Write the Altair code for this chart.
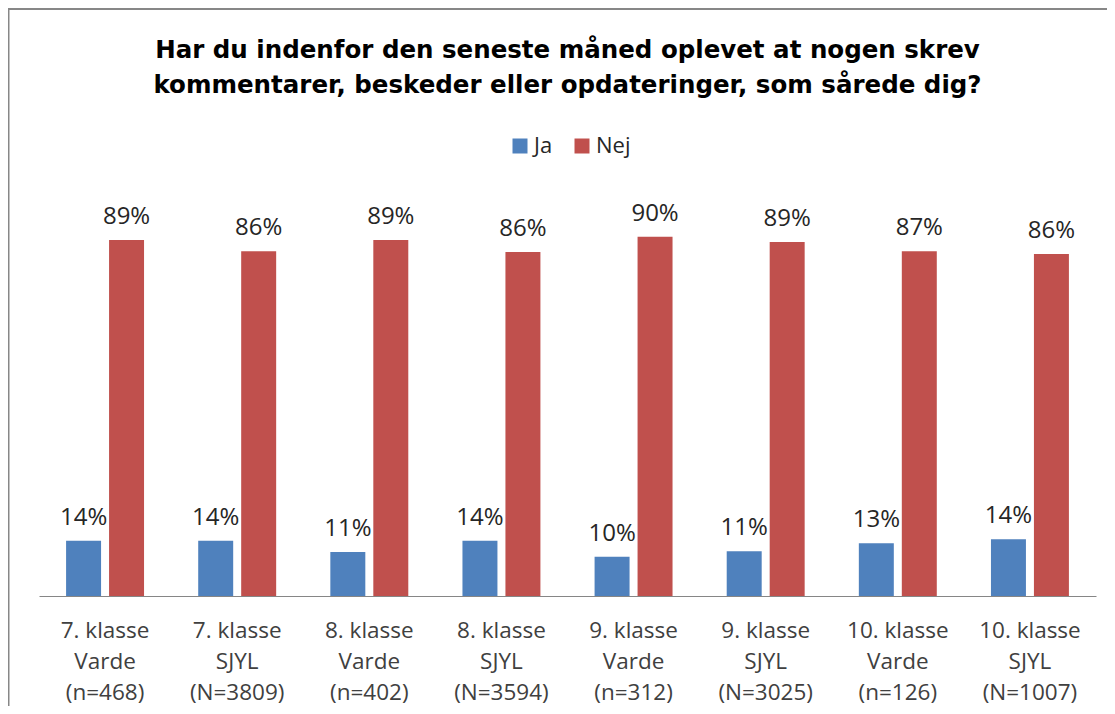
import altair as alt
import pandas as pd

groups = [
    "7. klasse\nVarde\n(n=468)",
    "7. klasse\nSJYL\n(N=3809)",
    "8. klasse\nVarde\n(n=402)",
    "8. klasse\nSJYL\n(N=3594)",
    "9. klasse\nVarde\n(n=312)",
    "9. klasse\nSJYL\n(N=3025)",
    "10. klasse\nVarde\n(n=126)",
    "10. klasse\nSJYL\n(N=1007)",
]
series = ["Ja", "Nej"]
ja_values = [13.8, 13.8, 11.0, 13.8, 9.8, 11.2, 13.2, 14.2]
nej_values = [89.0, 86.2, 89.0, 86.0, 89.8, 88.5, 86.2, 85.5]
ja_labels = ["14%", "14%", "11%", "14%", "10%", "11%", "13%", "14%"]
nej_labels = ["89%", "86%", "89%", "86%", "90%", "89%", "87%", "86%"]
colors = ["#4F81BD", "#C0504D"]
title_lines = [
    "Har du indenfor den seneste måned oplevet at nogen skrev",
    "kommentarer, beskeder eller opdateringer, som sårede dig?",
]

rows = []
for g, v, l in zip(groups, ja_values, ja_labels):
    rows.append({"group": g, "series": "Ja", "value": v, "label": l})
for g, v, l in zip(groups, nej_values, nej_labels):
    rows.append({"group": g, "series": "Nej", "value": v, "label": l})
df = pd.DataFrame(rows)

FONT = "Open Sans"
PL, PT, PR, PB = 31, 188, 11, 110
W, H = 1057, 400

x_enc = alt.X(
    "group:N",
    sort=groups,
    scale=alt.Scale(paddingInner=0.41, paddingOuter=0.205),
    axis=alt.Axis(
        title=None,
        labelExpr="split(datum.label, '\\n')",
        labelAngle=0,
        ticks=False,
        domainColor="#868686",
        domainWidth=1,
        labelFontSize=22.5,
        labelFont=FONT,
        labelColor="#404040",
        labelLineHeight=31,
        labelPadding=23,
        labelBaseline="top",
    ),
)
xo_enc = alt.XOffset(
    "series:N", sort=series, scale=alt.Scale(paddingInner=0.186, paddingOuter=0)
)
y_enc = alt.Y("value:Q", scale=alt.Scale(domain=[0, 100]), axis=None)

bars = alt.Chart(df).mark_bar().encode(
    x=x_enc,
    xOffset=xo_enc,
    y=y_enc,
    color=alt.Color(
        "series:N",
        scale=alt.Scale(domain=series, range=colors),
        legend=alt.Legend(
            title=None,
            orient="none",
            legendX=470,
            legendY=-61,
            direction="horizontal",
            symbolType="square",
            symbolSize=225,
            symbolStrokeWidth=0,
            labelFontSize=22,
            labelFont=FONT,
            labelColor="#262626",
            labelOffset=3,
            columnPadding=18,
        ),
    ),
)

texts = alt.Chart(df).mark_text(
    baseline="alphabetic", dy=-16, fontSize=24, font=FONT, color="#262626"
).encode(x=x_enc, xOffset=xo_enc, y=y_enc, text="label:N")

frame_df = pd.DataFrame({"a": [0]})
left_rule = alt.Chart(frame_df).mark_rule(color="#878787", strokeWidth=2).encode(
    x=alt.value(-PL + 0.5), y=alt.value(-PT), y2=alt.value(H + PB)
)
top_rule = alt.Chart(frame_df).mark_rule(color="#878787", strokeWidth=2).encode(
    x=alt.value(-PL), x2=alt.value(W + PR), y=alt.value(-PT + 1)
)

chart = (
    alt.layer(bars, texts, left_rule, top_rule)
    .properties(
        width=W,
        height=H,
        padding={"left": PL, "top": PT, "right": PR, "bottom": PB},
        autosize=alt.AutoSizeParams(type="none"),
        title=alt.TitleParams(
            text=title_lines,
            font="DejaVu Sans",
            fontSize=24.5,
            fontWeight="bold",
            color="#000000",
            anchor="middle",
            lineHeight=35,
            offset=-91,
        ),
    )
    .configure_view(stroke=None)
)

chart.save("out.html", embed_options={"renderer": "svg", "actions": False})
